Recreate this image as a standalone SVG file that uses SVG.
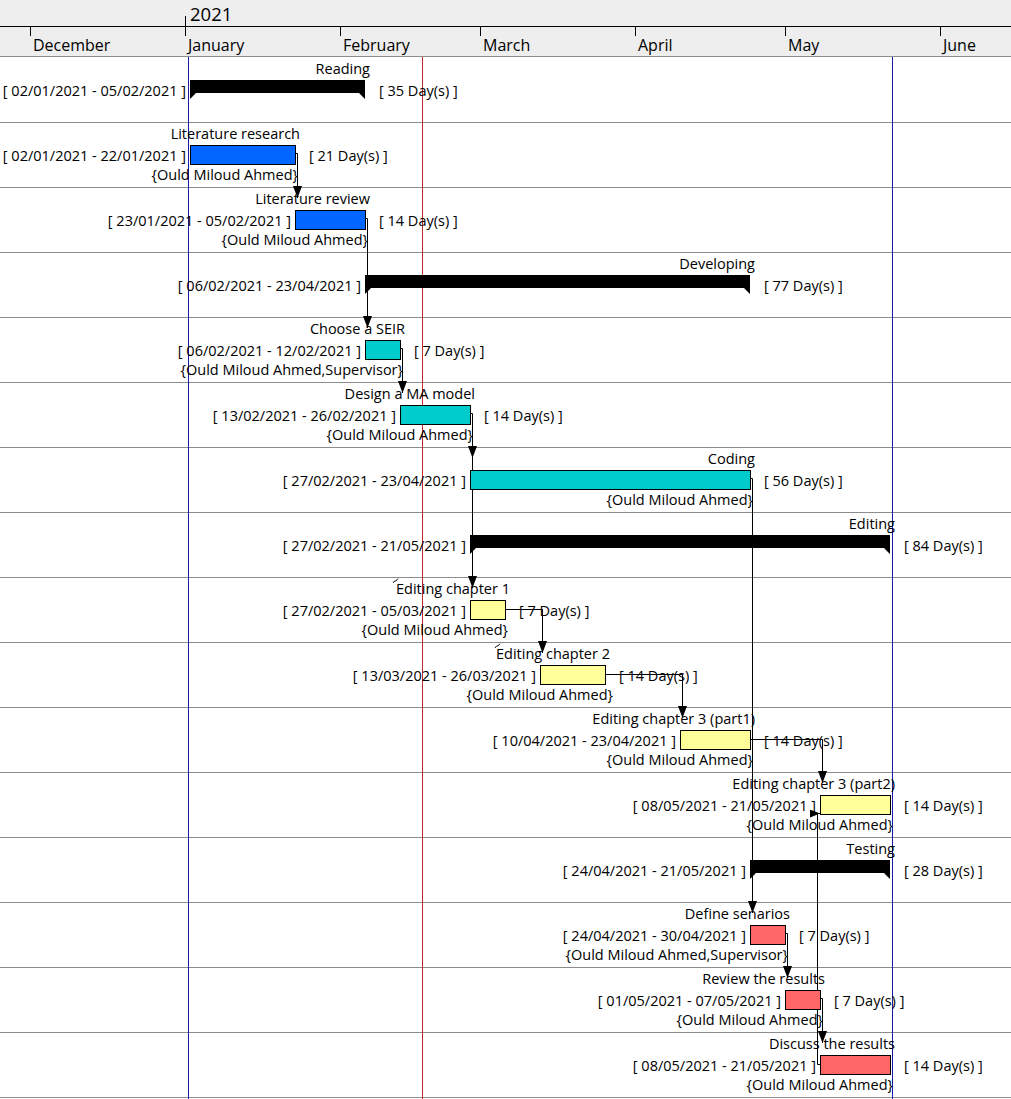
<svg xmlns="http://www.w3.org/2000/svg" width="1011" height="1099" viewBox="0 0 1011 1099">
<style>
text{font-family:"Open Sans","Noto Sans","Liberation Sans",sans-serif;font-size:14.5px;fill:#000}
.hdr{font-size:16px}
.yr{font-size:18.5px}
.e{text-anchor:end}
.sep{stroke:#8c8c8c;stroke-width:1}
.bar{stroke:#000;stroke-width:1}
.blue{fill:#0066ff}.cyan{fill:#00cccc}.yel{fill:#ffff99}.red{fill:#ff6666}
.sum{fill:#000}
.con{fill:none;stroke:#000;stroke-width:1}
</style>
<defs>
<marker id="ad" markerWidth="9" markerHeight="12" refX="4.5" refY="12" orient="0" markerUnits="userSpaceOnUse"><path d="M0,0 L9,0 L4.5,12 Z" fill="#000"/></marker>
<marker id="ar" markerWidth="10" markerHeight="8" refX="10" refY="4" orient="0" markerUnits="userSpaceOnUse"><path d="M0,0 L10,4 L0,8 Z" fill="#000"/></marker>
</defs>
<rect x="0" y="0" width="1011" height="1099" fill="#fff"/>
<g id="header">
<rect x="0" y="0" width="1011" height="56" fill="#eeeeee"/>
<line x1="0" y1="26.5" x2="1011" y2="26.5" stroke="#000"/>
<line x1="185.5" y1="16" x2="185.5" y2="26" stroke="#000"/>
<text class="yr" x="190" y="21">2021</text>
<g stroke="#000">
<line x1="30.5" y1="26" x2="30.5" y2="36"/><line x1="185.5" y1="26" x2="185.5" y2="36"/><line x1="340.5" y1="26" x2="340.5" y2="36"/><line x1="480.5" y1="26" x2="480.5" y2="36"/><line x1="635.5" y1="26" x2="635.5" y2="36"/><line x1="785.5" y1="26" x2="785.5" y2="36"/><line x1="940.5" y1="26" x2="940.5" y2="36"/>
</g>
<text class="hdr" x="33" y="51">December</text>
<text class="hdr" x="188" y="51">January</text>
<text class="hdr" x="343" y="51">February</text>
<text class="hdr" x="483" y="51">March</text>
<text class="hdr" x="638" y="51">April</text>
<text class="hdr" x="788" y="51">May</text>
<text class="hdr" x="943" y="51">June</text>
<line x1="0" y1="56.5" x2="1011" y2="56.5" class="sep"/>
</g>
<g id="grid">
<line x1="0" y1="122.5" x2="1011" y2="122.5" class="sep"/>
<line x1="0" y1="187.5" x2="1011" y2="187.5" class="sep"/>
<line x1="0" y1="252.5" x2="1011" y2="252.5" class="sep"/>
<line x1="0" y1="317.5" x2="1011" y2="317.5" class="sep"/>
<line x1="0" y1="382.5" x2="1011" y2="382.5" class="sep"/>
<line x1="0" y1="447.5" x2="1011" y2="447.5" class="sep"/>
<line x1="0" y1="512.5" x2="1011" y2="512.5" class="sep"/>
<line x1="0" y1="577.5" x2="1011" y2="577.5" class="sep"/>
<line x1="0" y1="642.5" x2="1011" y2="642.5" class="sep"/>
<line x1="0" y1="707.5" x2="1011" y2="707.5" class="sep"/>
<line x1="0" y1="772.5" x2="1011" y2="772.5" class="sep"/>
<line x1="0" y1="837.5" x2="1011" y2="837.5" class="sep"/>
<line x1="0" y1="902.5" x2="1011" y2="902.5" class="sep"/>
<line x1="0" y1="967.5" x2="1011" y2="967.5" class="sep"/>
<line x1="0" y1="1032.5" x2="1011" y2="1032.5" class="sep"/>
<line x1="0" y1="1097.5" x2="1011" y2="1097.5" class="sep"/>
<line x1="188.5" y1="57" x2="188.5" y2="1099" stroke="#1a1aaa"/>
<line x1="892.5" y1="57" x2="892.5" y2="1099" stroke="#1a1aaa"/>
<line x1="422.5" y1="57" x2="422.5" y2="1099" stroke="#c0282d"/>
</g>
<g id="connectors">
<path class="con" d="M295,153.5 H297.5 V198" marker-end="url(#ad)"/>
<path class="con" d="M365,218.5 H367.5 V328" marker-end="url(#ad)"/>
<path class="con" d="M400,348.5 H402.5 V393" marker-end="url(#ad)"/>
<path class="con" d="M470,413.5 H472.5 V458" marker-end="url(#ad)"/>
<path class="con" d="M472.5,458 V588" marker-end="url(#ad)"/>
<path class="con" d="M750,478.5 H752.5 V913" marker-end="url(#ad)"/>
<path class="con" d="M505,609.5 H542.5 V653" marker-end="url(#ad)"/>
<path class="con" d="M605,674.5 H682.5 V718" marker-end="url(#ad)"/>
<path class="con" d="M750,739.5 H822.5 V783" marker-end="url(#ad)"/>
<path class="con" d="M820,1064.5 H817.5 V813.5 H820" marker-end="url(#ar)"/>
<path class="con" d="M785,933.5 H787.5 V978" marker-end="url(#ad)"/>
<path class="con" d="M820,998.5 H822.5 V1043" marker-end="url(#ad)"/>
</g>
<g id="reading">
<path class="sum" d="M190,80 H365 V99 L359,93 H196 L190,99 Z"/>
<text class="e" x="370" y="74">Reading</text>
<text class="e" x="186" y="96">[ 02/01/2021 - 05/02/2021 ]</text>
<text x="379" y="96">[ 35 Day(s) ]</text>
</g>
<g id="literature-research">
<rect class="bar blue" x="190.5" y="145.5" width="105" height="19"/>
<text class="e" x="300" y="139">Literature research</text>
<text class="e" x="186" y="161">[ 02/01/2021 - 22/01/2021 ]</text>
<text x="309" y="161">[ 21 Day(s) ]</text>
<text class="e" x="298" y="180">{Ould Miloud Ahmed}</text>
</g>
<g id="literature-review">
<rect class="bar blue" x="295.5" y="210.5" width="70" height="19"/>
<text class="e" x="370" y="204">Literature review</text>
<text class="e" x="291" y="226">[ 23/01/2021 - 05/02/2021 ]</text>
<text x="379" y="226">[ 14 Day(s) ]</text>
<text class="e" x="368" y="245">{Ould Miloud Ahmed}</text>
</g>
<g id="developing">
<path class="sum" d="M365,275 H750 V294 L744,288 H371 L365,294 Z"/>
<text class="e" x="755" y="269">Developing</text>
<text class="e" x="361" y="291">[ 06/02/2021 - 23/04/2021 ]</text>
<text x="764" y="291">[ 77 Day(s) ]</text>
</g>
<g id="choose-seir">
<rect class="bar cyan" x="365.5" y="340.5" width="35" height="19"/>
<text class="e" x="405" y="334">Choose a SEIR</text>
<text class="e" x="361" y="356">[ 06/02/2021 - 12/02/2021 ]</text>
<text x="414" y="356">[ 7 Day(s) ]</text>
<text class="e" x="403" y="375">{Ould Miloud Ahmed,Supervisor}</text>
</g>
<g id="design-model">
<rect class="bar cyan" x="400.5" y="405.5" width="70" height="19"/>
<text class="e" x="475" y="399">Design a MA model</text>
<text class="e" x="396" y="421">[ 13/02/2021 - 26/02/2021 ]</text>
<text x="484" y="421">[ 14 Day(s) ]</text>
<text class="e" x="473" y="440">{Ould Miloud Ahmed}</text>
</g>
<g id="coding">
<rect class="bar cyan" x="470.5" y="470.5" width="280" height="19"/>
<text class="e" x="755" y="464">Coding</text>
<text class="e" x="466" y="486">[ 27/02/2021 - 23/04/2021 ]</text>
<text x="764" y="486">[ 56 Day(s) ]</text>
<text class="e" x="753" y="505">{Ould Miloud Ahmed}</text>
</g>
<g id="editing">
<path class="sum" d="M470,535 H890 V554 L884,548 H476 L470,554 Z"/>
<text class="e" x="895" y="529">Editing</text>
<text class="e" x="466" y="551">[ 27/02/2021 - 21/05/2021 ]</text>
<text x="904" y="551">[ 84 Day(s) ]</text>
</g>
<g id="editing-ch1">
<rect class="bar yel" x="470.5" y="600.5" width="35" height="19"/>
<path d="M393,583 L394.5,581 H396 L398,578.5" stroke="#000" stroke-width="0.9" fill="none"/>
<text class="e" x="510" y="594">Editing chapter 1</text>
<text class="e" x="466" y="616">[ 27/02/2021 - 05/03/2021 ]</text>
<text x="519" y="616">[ 7 Day(s) ]</text>
<text class="e" x="508" y="635">{Ould Miloud Ahmed}</text>
</g>
<g id="editing-ch2">
<rect class="bar yel" x="540.5" y="665.5" width="65" height="19"/>
<path d="M495,648 L496.5,646 H498 L500,643.5" stroke="#000" stroke-width="0.9" fill="none"/>
<text class="e" x="610" y="659">Editing chapter 2</text>
<text class="e" x="536" y="681">[ 13/03/2021 - 26/03/2021 ]</text>
<text x="619" y="681">[ 14 Day(s) ]</text>
<text class="e" x="613" y="700">{Ould Miloud Ahmed}</text>
</g>
<g id="editing-ch3-part1">
<rect class="bar yel" x="680.5" y="730.5" width="70" height="19"/>
<text class="e" x="755" y="724">Editing chapter 3 (part1)</text>
<text class="e" x="676" y="746">[ 10/04/2021 - 23/04/2021 ]</text>
<text x="764" y="746">[ 14 Day(s) ]</text>
<text class="e" x="753" y="765">{Ould Miloud Ahmed}</text>
</g>
<g id="editing-ch3-part2">
<rect class="bar yel" x="820.5" y="795.5" width="70" height="19"/>
<text class="e" x="895" y="789">Editing chapter 3 (part2)</text>
<text class="e" x="816" y="811">[ 08/05/2021 - 21/05/2021 ]</text>
<text x="904" y="811">[ 14 Day(s) ]</text>
<text class="e" x="893" y="830">{Ould Miloud Ahmed}</text>
</g>
<g id="testing">
<path class="sum" d="M750,860 H890 V879 L884,873 H756 L750,879 Z"/>
<text class="e" x="895" y="854">Testing</text>
<text class="e" x="746" y="876">[ 24/04/2021 - 21/05/2021 ]</text>
<text x="904" y="876">[ 28 Day(s) ]</text>
</g>
<g id="define-scenarios">
<rect class="bar red" x="750.5" y="925.5" width="35" height="19"/>
<text class="e" x="790" y="919">Define senarios</text>
<text class="e" x="746" y="941">[ 24/04/2021 - 30/04/2021 ]</text>
<text x="799" y="941">[ 7 Day(s) ]</text>
<text class="e" x="788" y="960">{Ould Miloud Ahmed,Supervisor}</text>
</g>
<g id="review-results">
<rect class="bar red" x="785.5" y="990.5" width="35" height="19"/>
<text class="e" x="825" y="984">Review the results</text>
<text class="e" x="781" y="1006">[ 01/05/2021 - 07/05/2021 ]</text>
<text x="834" y="1006">[ 7 Day(s) ]</text>
<text class="e" x="823" y="1025">{Ould Miloud Ahmed}</text>
</g>
<g id="discuss-results">
<rect class="bar red" x="820.5" y="1055.5" width="70" height="19"/>
<text class="e" x="895" y="1049">Discuss the results</text>
<text class="e" x="816" y="1071">[ 08/05/2021 - 21/05/2021 ]</text>
<text x="904" y="1071">[ 14 Day(s) ]</text>
<text class="e" x="893" y="1090">{Ould Miloud Ahmed}</text>
</g>
</svg>
